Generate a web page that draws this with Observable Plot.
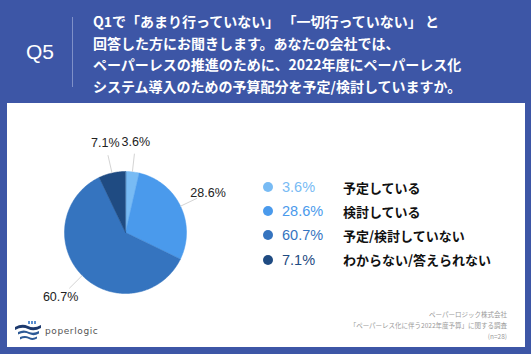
<!DOCTYPE html>
<html><head><meta charset="utf-8">
<script src="https://cdn.jsdelivr.net/npm/d3@7"></script>
<script src="https://cdn.jsdelivr.net/npm/@observablehq/plot@0.6"></script>
<style>
html,body{margin:0;padding:0;}
body{width:531px;height:354px;overflow:hidden;background:#3d56a6;font-family:"Liberation Sans","Noto Sans CJK JP",sans-serif;position:relative;}
#q{position:absolute;left:0;width:80px;top:40px;text-align:center;color:#fff;font-size:21px;font-family:"Liberation Sans",sans-serif;}
#sep{position:absolute;left:72px;top:17px;width:1px;height:70px;background:#7f90c8;}
#title{position:absolute;left:93px;top:11px;color:#fff;font-size:14px;line-height:21.7px;font-weight:bold;font-family:"Noto Sans CJK JP",sans-serif;white-space:nowrap;}
#panel{position:absolute;left:7px;top:103px;width:518px;height:244px;background:#fff;}
#chart{position:absolute;left:0;top:0;}
#legend{position:absolute;left:256px;top:72px;}
.row{height:24.2px;display:flex;align-items:center;white-space:nowrap;}
.dot{width:10px;height:10px;border-radius:50%;margin-right:9px;}
.pct{width:61px;font-size:14.5px;font-family:"Liberation Sans",sans-serif;}
.lab{font-size:13px;color:#111;font-family:"Noto Sans CJK JP",sans-serif;font-weight:bold;}
#foot{position:absolute;right:18px;top:206px;text-align:right;color:#9a9a9a;font-size:6.5px;line-height:11px;font-family:"Noto Sans CJK JP",sans-serif;}
#logo{position:absolute;left:7px;top:217px;display:flex;align-items:center;}
#logo span{font-family:"DejaVu Sans",sans-serif;color:#555;font-size:9px;letter-spacing:0.6px;margin-left:3px;}
</style></head>
<body>
<div id="q">Q5</div>
<div id="sep"></div>
<div id="title">Q1で「あまり行っていない」 「一切行っていない」 と<br>回答した方にお聞きします。あなたの会社では、<br>ペーパーレスの推進のために、2022年度にペーパーレス化<br>システム導入のための予算配分を予定/検討していますか。</div>
<div id="panel">
  <div id="chart"></div>
  <div id="legend"></div>
  <div id="foot">ペーパーロジック株式会社<br>「ペーパーレス化に伴う2022年度予算」に関する調査<br>(n=28)</div>
  <div id="logo"><svg width="28" height="22" viewBox="0 0 28 22">
    <path d="M1 7 Q8 3 14 6 Q20 9 27 5 L27 8 Q20 12 14 9 Q8 6 1 10Z" fill="#1d3a6e"/>
    <path d="M4 12 Q10 9 15 12 Q20 14 25 11 L25 13.5 Q20 16.5 15 14 Q10 11.5 4 14.5Z" fill="#2d5a96"/>
    <path d="M6 17 Q11 15 15 17 Q19 19 23 16.5 L23 18.5 Q19 21 15 19 Q11 17 6 19.5Z" fill="#2d5a96"/>
    <rect x="14" y="1" width="2" height="3" fill="#5b8fd0"/><rect x="17" y="1" width="2" height="3" fill="#5b8fd0"/><rect x="20" y="1" width="2" height="3" fill="#5b8fd0"/>
  </svg><span>poperlogic</span></div>
</div>
<script>
const categories = ["予定している", "検討している", "予定/検討していない", "わからない/答えられない"];
const values = [3.6, 28.6, 60.7, 7.1];
const colors = ["#78bbf4", "#4a9aec", "#3574bf", "#1f4b82"];

const arcs = d3.pie().sort(null).value(d => d)(values);
const poly = [];
const labels = [];
const leaders = [];
arcs.forEach((a, i) => {
  poly.push({k: i, x: 0, y: 0});
  const n = Math.max(4, Math.ceil((a.endAngle - a.startAngle) / 0.02));
  for (let j = 0; j <= n; j++) {
    const t = a.startAngle + (a.endAngle - a.startAngle) * j / n;
    poly.push({k: i, x: Math.sin(t), y: Math.cos(t)});
  }
  const m = (a.startAngle + a.endAngle) / 2;
  labels.push({k: i, x: 1.5 * Math.sin(m), y: 1.5 * Math.cos(m), text: values[i].toFixed(1) + "%"});
  leaders.push({k: i, x1: 1.0 * Math.sin(m), y1: 1.0 * Math.cos(m), x2: 1.3 * Math.sin(m), y2: 1.3 * Math.cos(m)});
});

const chart = Plot.plot({
  width: 518, height: 244, margin: 0,
  x: {domain: [-1, 1], range: [57, 179], axis: null},
  y: {domain: [-1, 1], range: [190, 68], axis: null},
  color: {domain: d3.range(values.length), range: colors},
  style: {background: "transparent", overflow: "visible"},
  marks: [
    Plot.line(poly, {x: "x", y: "y", z: "k", fill: "k", stroke: "k", strokeWidth: 0.5, curve: "linear-closed"}),
    Plot.link(leaders, {x1: "x1", y1: "y1", x2: "x2", y2: "y2", stroke: "#d4d4d4", strokeWidth: 1}),
    Plot.text(labels, {x: "x", y: "y", text: "text", fill: "#222", fontSize: 12.5, fontFamily: "Liberation Sans, sans-serif"})
  ]
});
document.getElementById("chart").appendChild(chart);

const lg = document.getElementById("legend");
categories.forEach((c, i) => {
  const r = document.createElement("div");
  r.className = "row";
  r.innerHTML = `<div class="dot" style="background:${colors[i]}"></div><div class="pct" style="color:${colors[i]}">${values[i].toFixed(1)}%</div><div class="lab">${c}</div>`;
  lg.appendChild(r);
});
</script>
</body></html>
